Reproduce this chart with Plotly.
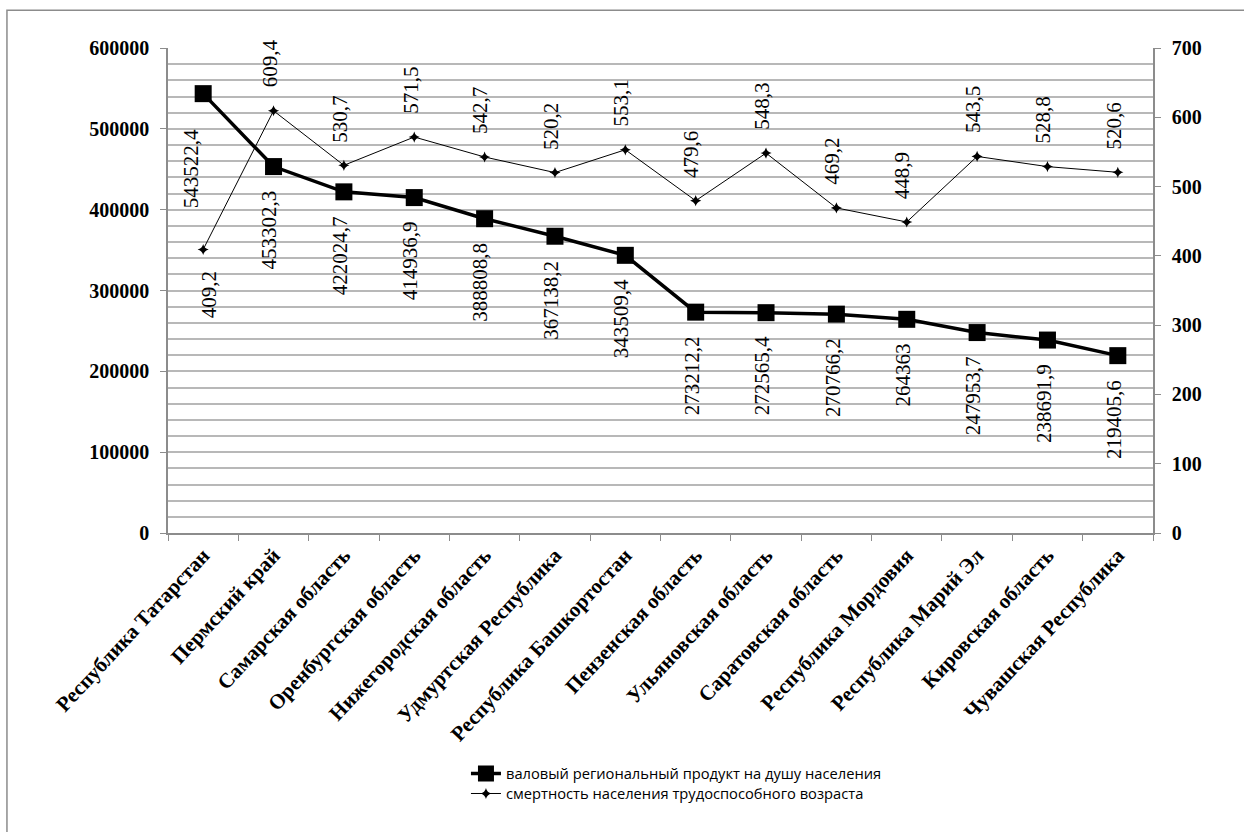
import plotly.graph_objects as go

regions = [
    "Республика Татарстан", "Пермский край", "Самарская область",
    "Оренбургская область", "Нижегородская область", "Удмуртская Республика",
    "Республика Башкортостан", "Пензенская область", "Ульяновская область",
    "Саратовская область", "Республика Мордовия", "Республика Марий Эл",
    "Кировская область", "Чувашская Республика",
]
grp_per_capita = [
    543522.4, 453302.3, 422024.7, 414936.9, 388808.8, 367138.2, 343509.4,
    273212.2, 272565.4, 270766.2, 264363.0, 247953.7, 238691.9, 219405.6,
]
mortality_working_age = [
    409.2, 609.4, 530.7, 571.5, 542.7, 520.2, 553.1,
    479.6, 548.3, 469.2, 448.9, 543.5, 528.8, 520.6,
]
left_ticks = [0, 100000, 200000, 300000, 400000, 500000, 600000]
right_ticks = [0, 100, 200, 300, 400, 500, 600, 700]

name_grp = "валовый региональный продукт на душу населения"
name_mort = "смертность населения трудоспособного возраста"

SERIF = "Liberation Serif"
LEGEND_FONT = dict(family="Open Sans", size=14.7, color="black")
GRID = "#b8b8b8"
AXIS = "#8c8c8c"


def fmt(v):
    s = f"{v:.1f}".rstrip("0").rstrip(".")
    return s.replace(".", ",")


fig = go.Figure()
fig.add_trace(go.Scatter(
    x=regions, y=grp_per_capita, name=name_grp, mode="lines+markers",
    line=dict(color="black", width=3.5),
    marker=dict(symbol="square", size=17, color="black"),
    yaxis="y", legend="legend",
))
fig.add_trace(go.Scatter(
    x=regions, y=mortality_working_age, name=name_mort, mode="lines+markers",
    line=dict(color="black", width=1),
    marker=dict(symbol="star-diamond", size=8, color="black"),
    yaxis="y2", legend="legend2",
))

annotations = []
label_font = dict(family=SERIF, size=21, color="black", weight="normal")
for i, (r, v) in enumerate(zip(regions, grp_per_capita)):
    annotations.append(dict(
        x=r, y=v, xref="x", yref="y", text=fmt(v), showarrow=False,
        textangle=-90, xanchor="center", yanchor="top",
        xshift=-12 if i == 0 else -4, yshift=-34 if i == 0 else -22,
        font=label_font,
    ))
for i, (r, v) in enumerate(zip(regions, mortality_working_age)):
    below = i == 0
    annotations.append(dict(
        x=r, y=v, xref="x", yref="y2", text=fmt(v), showarrow=False,
        textangle=-90, xanchor="center",
        yanchor="top" if below else "bottom",
        xshift=6 if below else -4, yshift=-20 if below else 21,
        font=label_font,
    ))

legend_common = dict(
    x=0.3025, xanchor="left", yanchor="middle",
    font=LEGEND_FONT, bgcolor="rgba(0,0,0,0)", borderwidth=0,
)

fig.update_layout(
    width=1244, height=832,
    margin=dict(l=168, r=91, t=48, b=299),
    paper_bgcolor="white", plot_bgcolor="white",
    showlegend=True,
    legend=dict(y=-0.497, **legend_common),
    legend2=dict(y=-0.538, **legend_common),
    annotations=annotations,
    xaxis=dict(
        type="category", range=[-0.5, len(regions) - 0.5],
        showline=True, linecolor=AXIS, linewidth=1.5,
        ticks="outside", tickson="boundaries", ticklen=6, tickcolor=AXIS,
        tickangle=-47, showgrid=False,
        tickfont=dict(family=SERIF, size=21, color="black", weight="bold"),
    ),
    yaxis=dict(
        range=[0, 600000], tickvals=left_ticks,
        ticktext=[str(t) for t in left_ticks],
        showline=True, linecolor=AXIS, linewidth=1.5,
        ticks="outside", ticklen=6, tickcolor=AXIS,
        showgrid=True, gridcolor=GRID, gridwidth=1.5,
        minor=dict(dtick=20000, showgrid=True, gridcolor=GRID, gridwidth=1.5),
        zeroline=False, ticklabelstandoff=7,
        tickfont=dict(family=SERIF, size=20, color="black", weight="bold"),
    ),
    yaxis2=dict(
        range=[0, 700], tickvals=right_ticks, overlaying="y", side="right",
        showline=True, linecolor=AXIS, linewidth=1.5,
        ticks="outside", ticklen=6, tickcolor=AXIS,
        showgrid=False, zeroline=False, ticklabelstandoff=7,
        tickfont=dict(family=SERIF, size=20, color="black", weight="bold"),
    ),
    shapes=[dict(
        type="rect", xref="paper", yref="paper",
        x0=-0.1635, x1=1.2, y0=-1.0, y1=1.078,
        line=dict(color="#8c8c8c", width=1.5), fillcolor="rgba(0,0,0,0)",
        layer="below",
    )],
)

fig.write_html("out.html")
